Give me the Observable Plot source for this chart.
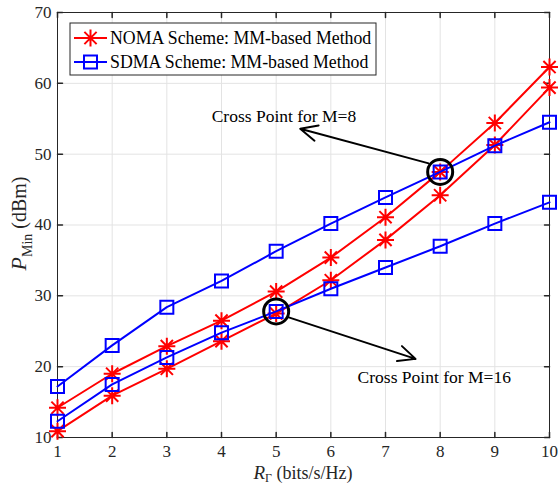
<!DOCTYPE html>
<html><head><meta charset="utf-8">
<script src="https://cdn.jsdelivr.net/npm/d3@7"></script>
<script src="https://cdn.jsdelivr.net/npm/@observablehq/plot@0.6"></script>
<style>body{margin:0;background:#fff}#chart{width:560px;height:484px}</style>
</head><body><div id="chart"></div>
<script>
// ---- data ----
const rate = [1, 2, 3, 4, 5, 6, 7, 8, 9, 10];
const nomaUpper = [14.2, 19.0, 22.9, 26.5, 30.6, 35.4, 41.1, 47.5, 54.4, 62.3];
const nomaLower = [10.9, 15.9, 19.7, 23.6, 27.5, 32.2, 37.9, 44.2, 51.3, 59.4];
const sdmaUpper = [17.2, 23.0, 28.4, 32.1, 36.3, 40.2, 43.9, 47.5, 51.2, 54.5];
const sdmaLower = [12.3, 17.5, 21.3, 24.8, 27.8, 31.0, 34.0, 37.0, 40.2, 43.2];
const xTicks = [1, 2, 3, 4, 5, 6, 7, 8, 9, 10];
const yTicks = [10, 20, 30, 40, 50, 60, 70];
const legendLabels = ["NOMA Scheme: MM-based Method", "SDMA Scheme: MM-based Method"];
const crossX = [8, 5];
const crossY = [47.5, 27.8];
const arrowX1 = [7.79, 5.23];
const arrowY1 = [48.7, 26.96];
const arrowX2 = [5.44, 7.55];
const arrowY2 = [53.6, 21.1];
const noteText = ["Cross Point for M=8", "Cross Point for M=16"];
const noteX = [3.82, 6.49];
const noteY = [55.4, 18.5];

// ---- tables ----
const series = [
  {name: "NOMA-a", scheme: "NOMA", ys: nomaUpper},
  {name: "NOMA-b", scheme: "NOMA", ys: nomaLower},
  {name: "SDMA-a", scheme: "SDMA", ys: sdmaUpper},
  {name: "SDMA-b", scheme: "SDMA", ys: sdmaLower}
];
const rows = series.flatMap(s => rate.map((x, i) => ({x, y: s.ys[i], name: s.name, scheme: s.scheme})));
const noma = rows.filter(d => d.scheme === "NOMA");
const sdma = rows.filter(d => d.scheme === "SDMA");
const crosses = crossX.map((x, i) => ({x, y: crossY[i]}));
const arrows = arrowX1.map((x1, i) => ({x1, y1: arrowY1[i], x2: arrowX2[i], y2: arrowY2[i]}));
const notes = noteText.map((t, i) => ({t, x: noteX[i], y: noteY[i]}));

const RED = "#ff0000", BLUE = "#0000ff", AX = "#262626";
const FONT = "'Liberation Serif', 'Times New Roman', serif";
const star8 = {draw(ctx, size) {
  const r = Math.sqrt(size / Math.PI), d = r * 0.72;
  ctx.moveTo(-r, 0); ctx.lineTo(r, 0);
  ctx.moveTo(0, -r); ctx.lineTo(0, r);
  ctx.moveTo(-d, -d); ctx.lineTo(d, d);
  ctx.moveTo(-d, d); ctx.lineTo(d, -d);
}};
const square = {draw(ctx, size) {
  const r = Math.sqrt(size / Math.PI);
  ctx.moveTo(-r, -r); ctx.lineTo(r, -r); ctx.lineTo(r, r); ctx.lineTo(-r, r); ctx.closePath();
}};
const tickShape = {draw(ctx, l) { ctx.moveTo(0, 0); ctx.lineTo(0, -l); }};

const plot = Plot.plot({
  width: 560, height: 484,
  marginLeft: 57, marginRight: 11, marginTop: 12, marginBottom: 47,
  style: {fontFamily: FONT, fontSize: "17px", background: "#fff"},
  x: {domain: [1, 10]},
  y: {domain: [10, 70]},
  marks: [
    Plot.gridX(xTicks, {stroke: "#e3e3e3", strokeOpacity: 1}),
    Plot.gridY(yTicks, {stroke: "#e3e3e3", strokeOpacity: 1}),
    Plot.frame({stroke: AX, strokeWidth: 1}),
    Plot.vector(xTicks, {x: d => d, frameAnchor: "bottom", rotate: 0, length: 5, anchor: "start", shape: tickShape, stroke: AX}),
    Plot.vector(xTicks, {x: d => d, frameAnchor: "top", rotate: 180, length: 5, anchor: "start", shape: tickShape, stroke: AX}),
    Plot.vector(yTicks, {y: d => d, frameAnchor: "left", rotate: 90, length: 5, anchor: "start", shape: tickShape, stroke: AX}),
    Plot.vector(yTicks, {y: d => d, frameAnchor: "right", rotate: -90, length: 5, anchor: "start", shape: tickShape, stroke: AX}),
    Plot.axisX(xTicks, {tickSize: 0, tickPadding: 7, label: null, color: AX, fontSize: 17}),
    Plot.axisY(yTicks, {tickSize: 0, tickPadding: 6, label: null, color: AX, fontSize: 17}),
    Plot.line(noma, {x: "x", y: "y", z: "name", stroke: RED, strokeWidth: 2}),
    Plot.dot(noma, {x: "x", y: "y", symbol: star8, r: 8.5, stroke: RED, strokeWidth: 2, fill: "none"}),
    Plot.line(sdma, {x: "x", y: "y", z: "name", stroke: BLUE, strokeWidth: 2}),
    Plot.dot(sdma, {x: "x", y: "y", symbol: square, r: 6.5, stroke: BLUE, strokeWidth: 2, fill: "none"}),
    Plot.dot(crosses, {x: "x", y: "y", r: 12.5, stroke: "#000", strokeWidth: 3, fill: "none"}),
    Plot.arrow(arrows, {x1: "x1", y1: "y1", x2: "x2", y2: "y2", stroke: "#000", strokeWidth: 2, headLength: 14, headAngle: 50}),
    Plot.text(notes, {x: "x", y: "y", text: "t", textAnchor: "start", fill: "#000", fontSize: 17.5})
  ]
});
document.getElementById("chart").appendChild(plot);

// ---- legend & axis titles ----
const svg = d3.select(plot);
const xs = plot.scale("x").range, ys = plot.scale("y").range;
const lg = svg.append("g");
lg.append("rect").attr("x", 70).attr("y", 23).attr("width", 306).attr("height", 52)
  .attr("fill", "#fff").attr("stroke", AX).attr("stroke-width", 1);
[[RED, star8, 8.5], [BLUE, square, 6.5]].forEach(([c, sym, r], i) => {
  const y = 38 + i * 24;
  lg.append("line").attr("x1", 74).attr("x2", 107).attr("y1", y).attr("y2", y).attr("stroke", c).attr("stroke-width", 2);
  lg.append("path").attr("transform", `translate(90.5,${y})`).attr("d", d3.symbol(sym, r * r * Math.PI)())
    .attr("fill", "none").attr("stroke", c).attr("stroke-width", 2);
  lg.append("text").attr("x", 110).attr("y", y).attr("dy", "0.35em").attr("text-anchor", "start")
    .attr("font-size", 17.8).attr("fill", "#000").text(legendLabels[i]);
});
const xl = svg.append("text").attr("x", (xs[0] + xs[1]) / 2).attr("y", 479).attr("text-anchor", "middle")
  .attr("font-size", 18).attr("fill", AX);
xl.append("tspan").attr("font-style", "italic").attr("font-size", 19).text("R");
xl.append("tspan").attr("font-size", 12).attr("dy", 3).text("Γ");
xl.append("tspan").attr("dy", -3).text(" (bits/s/Hz)");
const yl = svg.append("text").attr("transform", `translate(26,${(ys[0] + ys[1]) / 2 - 1}) rotate(-90)`)
  .attr("text-anchor", "middle").attr("font-size", 20).attr("fill", AX);
yl.append("tspan").attr("font-style", "italic").attr("font-size", 22).text("P");
yl.append("tspan").attr("font-size", 14).attr("dy", 6).text("Min");
yl.append("tspan").attr("dy", -6).text(" (dBm)");
</script></body></html>
